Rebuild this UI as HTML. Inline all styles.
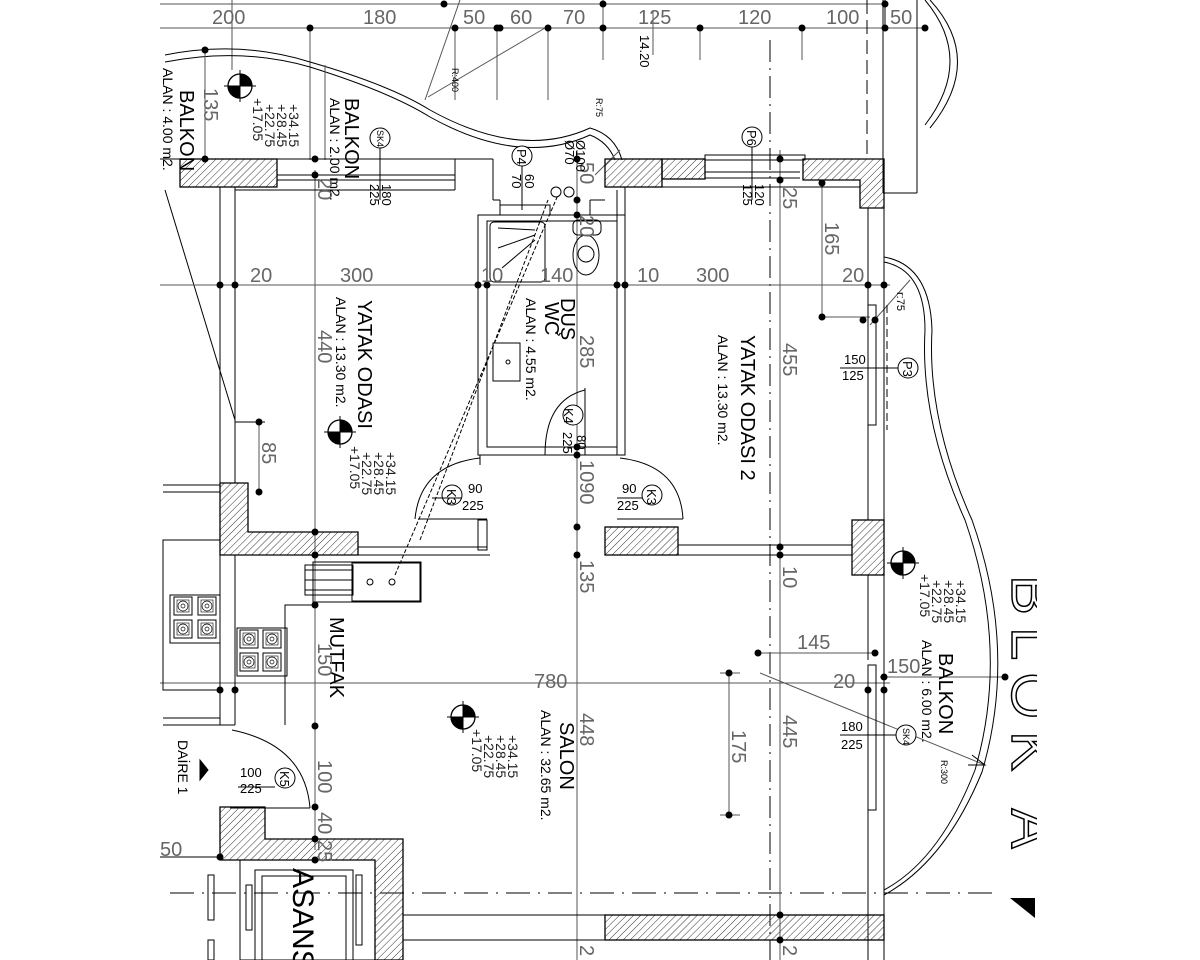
<!DOCTYPE html>
<html><head><meta charset="utf-8">
<style>
html,body{margin:0;padding:0;background:#fff;}
svg{display:block;}
.d{font-family:"Liberation Sans",sans-serif;font-size:20px;fill:#666;font-weight:normal;}
.l{font-family:"Liberation Sans",sans-serif;font-size:14px;fill:#000;}
.lb{font-family:"Liberation Sans",sans-serif;font-size:20px;fill:#000;}
.s{font-family:"Liberation Sans",sans-serif;font-size:13px;fill:#000;}
.t{font-family:"Liberation Sans",sans-serif;font-size:9px;fill:#000;}
</style></head><body>
<svg width="1200" height="960" viewBox="0 0 1200 960" xmlns="http://www.w3.org/2000/svg">
<defs>
<pattern id="h" width="5" height="5" patternUnits="userSpaceOnUse" patternTransform="rotate(45)">
<line x1="0" y1="0" x2="0" y2="5" stroke="#333" stroke-width="1"/></pattern>
<g id="em"><circle cx="0" cy="0" r="12" fill="#fff" stroke="#000" stroke-width="1.3"/>
<path d="M0 0 L0 -12 A12 12 0 0 1 12 0 Z M0 0 L0 12 A12 12 0 0 1 -12 0 Z" fill="#000"/>
<line x1="-16" y1="0" x2="16" y2="0" stroke="#000"/><line x1="0" y1="-16" x2="0" y2="16" stroke="#000"/></g>
<g id="bur"><rect x="0" y="0" width="18" height="18" fill="#fff" stroke="#000"/><rect x="3" y="3" width="12" height="12" fill="none" stroke="#000" stroke-width=".6"/><circle cx="9" cy="9" r="5" fill="none" stroke="#000" stroke-width=".7"/><circle cx="9" cy="9" r="2" fill="none" stroke="#000" stroke-width=".7"/></g>
<clipPath id="cr"><rect x="990" y="0" width="47" height="960"/></clipPath>
</defs>
<rect width="1200" height="960" fill="#fff"/>
<g stroke="#000" fill="none" stroke-width="1">
<line x1="160" y1="4" x2="885" y2="4" stroke="#555"/>
<line x1="160" y1="28" x2="925" y2="28" stroke="#555"/>
<g stroke="#555">
<line x1="232" y1="0" x2="232" y2="70"/><line x1="310" y1="28" x2="310" y2="160"/>
<line x1="455" y1="28" x2="455" y2="100"/><line x1="497" y1="28" x2="497" y2="100"/>
<line x1="548" y1="28" x2="548" y2="100"/><line x1="603" y1="0" x2="603" y2="60"/>
<line x1="700" y1="28" x2="700" y2="60"/><line x1="802" y1="28" x2="802" y2="60"/>
<line x1="653" y1="10" x2="653" y2="55"/>
</g>
<line x1="885" y1="0" x2="885" y2="28" />
<line x1="867" y1="0" x2="867" y2="160" stroke-dasharray="14,6"/>
<line x1="883" y1="0" x2="883" y2="193"/><line x1="917" y1="0" x2="917" y2="193"/>
<line x1="883" y1="193" x2="917" y2="193"/>
<path d="M925 0 Q975 60 925 125" /><path d="M930 0 Q985 60 930 128"/>
<path d="M165 55 Q240 40 310 62 Q390 85 430 110 Q520 160 590 128 Q615 135 622 160"/>
<path d="M165 62 Q240 47 310 67 Q390 92 430 117 Q520 167 590 135 Q608 142 615 160"/>
<line x1="205" y1="50" x2="205" y2="160" stroke="#555"/>
<line x1="325" y1="65" x2="325" y2="160" stroke="#555"/>
<line x1="428" y1="97" x2="545" y2="28" stroke="#555"/>
<line x1="425" y1="100" x2="460" y2="0" stroke="#555"/>
<line x1="165" y1="190" x2="235" y2="420"/>
<line x1="235" y1="422" x2="265" y2="422"/>
<line x1="770" y1="40" x2="770" y2="960" stroke-dasharray="22,6,2,6"/>
<line x1="170" y1="893" x2="1000" y2="893" stroke-dasharray="24,8,2,8"/>
<line x1="160" y1="285" x2="890" y2="285" stroke="#555"/>
<line x1="160" y1="683" x2="890" y2="683" stroke="#555"/>
<line x1="315" y1="170" x2="315" y2="850" stroke="#555"/>
<line x1="577" y1="150" x2="577" y2="960" stroke="#555"/>
<line x1="780" y1="150" x2="780" y2="960" stroke="#555"/>
<line x1="259" y1="420" x2="259" y2="492" stroke="#555"/>
<line x1="822" y1="183" x2="822" y2="317" stroke="#555"/>
<line x1="820" y1="317" x2="870" y2="317" stroke="#555"/>
<line x1="758" y1="653" x2="875" y2="653" stroke="#555"/>
<line x1="729" y1="673" x2="729" y2="815" stroke="#555"/>
<line x1="720" y1="673" x2="740" y2="673" stroke="#555"/>
<line x1="720" y1="815" x2="740" y2="815" stroke="#555"/>
<line x1="880" y1="677" x2="1005" y2="677" stroke="#555"/>
<line x1="760" y1="673" x2="985" y2="765" stroke="#555"/>
<path d="M972 755 L985 765 L968 765" />
<path d="M884 262 Q925 270 925 330 Q920 420 965 520 Q1010 650 975 770 Q940 860 884 890"/>
<path d="M884 257 Q930 265 932 330 Q927 420 972 520 Q1018 650 982 772 Q945 862 884 895"/>
<line x1="870" y1="325" x2="910" y2="280" stroke="#555"/>
<line x1="160" y1="159" x2="180" y2="159"/>
<line x1="277" y1="159" x2="455" y2="159"/>
<line x1="277" y1="175" x2="455" y2="175"/>
<line x1="277" y1="180" x2="455" y2="180"/>
<line x1="455" y1="159" x2="493" y2="159"/><line x1="493" y1="159" x2="493" y2="200"/><line x1="455" y1="159" x2="455" y2="190"/>
<line x1="235" y1="190" x2="455" y2="190"/>
<line x1="493" y1="200" x2="500" y2="200"/><line x1="500" y1="200" x2="500" y2="215"/>
<line x1="590" y1="200" x2="605" y2="200"/><line x1="590" y1="200" x2="590" y2="215"/>
<rect x="500" y="205" width="50" height="10"/>
<rect x="478" y="215" width="147" height="240"/>
<rect x="487" y="221" width="130" height="226"/>
<rect x="490" y="222" width="55" height="60" rx="4"/>
<line x1="498" y1="228" x2="535" y2="230"/><line x1="498" y1="248" x2="535" y2="235"/><line x1="502" y1="268" x2="535" y2="240"/>
<rect x="493" y="343" width="27" height="38"/><circle cx="508" cy="362" r="2"/>
<ellipse cx="586" cy="255" rx="13" ry="20"/><circle cx="586" cy="254" r="8"/>
<rect x="573" y="220" width="28" height="15" rx="5"/>
<line x1="420" y1="540" x2="548" y2="200" stroke-dasharray="4,2"/>
<line x1="395" y1="575" x2="558" y2="195" stroke-dasharray="4,2"/>
<circle cx="556" cy="192" r="5"/><circle cx="569" cy="192" r="5"/>
<line x1="595" y1="175" x2="620" y2="150" stroke="#555"/>
<path d="M545 455 Q545 400 585 390" /><line x1="585" y1="388" x2="585" y2="455"/>
<line x1="220" y1="187" x2="220" y2="483"/><line x1="235" y1="187" x2="235" y2="483"/>
<path d="M415 519 Q420 465 480 458"/><line x1="480" y1="455" x2="480" y2="465"/>
<line x1="418" y1="519" x2="487" y2="519"/><rect x="478" y="520" width="9" height="30"/>
<path d="M683 519 Q680 465 620 458"/><line x1="617" y1="519" x2="683" y2="519"/>
<line x1="358" y1="547" x2="487" y2="547"/><line x1="358" y1="555" x2="490" y2="555"/>
<line x1="678" y1="545" x2="852" y2="545"/><line x1="678" y1="555" x2="852" y2="555"/>
<line x1="868" y1="208" x2="868" y2="305"/><line x1="884" y1="180" x2="884" y2="960"/>
<line x1="868" y1="425" x2="868" y2="520"/><line x1="868" y1="575" x2="868" y2="660"/>
<line x1="868" y1="810" x2="868" y2="960"/>
<rect x="868" y="305" width="8" height="120"/><line x1="887" y1="305" x2="887" y2="430" stroke-dasharray="8,4"/>
<rect x="868" y="665" width="8" height="145"/>
<line x1="625" y1="187" x2="625" y2="455"/><line x1="617" y1="190" x2="617" y2="455"/>
<line x1="600" y1="455" x2="625" y2="455"/>
<rect x="705" y="155" width="100" height="5"/><line x1="705" y1="172" x2="800" y2="172"/><line x1="705" y1="178" x2="800" y2="178"/>
<line x1="640" y1="187" x2="860" y2="187"/>
<line x1="163" y1="485" x2="220" y2="485"/><line x1="163" y1="492" x2="220" y2="492"/>
<rect x="163" y="540" width="57" height="150"/>
<line x1="220" y1="555" x2="220" y2="725"/><line x1="235" y1="555" x2="235" y2="725"/>
<line x1="163" y1="725" x2="235" y2="725"/><line x1="163" y1="718" x2="220" y2="718"/>
<rect x="170" y="595" width="50" height="48"/>
<use href="#bur" x="174" y="597"/><use href="#bur" x="198" y="597"/><use href="#bur" x="174" y="620"/><use href="#bur" x="198" y="620"/>
<rect x="237" y="628" width="50" height="48"/>
<use href="#bur" x="240" y="630"/><use href="#bur" x="263" y="630"/><use href="#bur" x="240" y="653"/><use href="#bur" x="263" y="653"/>
<polyline points="285,725 285,605 315,605"/>
<rect x="313" y="562" width="108" height="40"/>
<rect x="352" y="563" width="68" height="38"/>
<rect x="305" y="565" width="48" height="30"/>
<line x1="305" y1="570" x2="352" y2="570"/><line x1="305" y1="580" x2="352" y2="580"/><line x1="305" y1="590" x2="352" y2="590"/>
<circle cx="370" cy="582" r="3"/><circle cx="392" cy="582" r="3"/>
<path d="M232 730 Q305 745 310 808"/><line x1="230" y1="808" x2="310" y2="808"/>
<path d="M200 760 L208 770 L200 780 Z" fill="#000"/>
<rect x="240" y="860" width="135" height="100"/><rect x="255" y="870" width="98" height="90"/><rect x="262" y="876" width="84" height="84"/>
<rect x="208" y="875" width="6" height="45"/><rect x="208" y="940" width="6" height="20"/>
<rect x="246" y="885" width="6" height="45"/><rect x="356" y="875" width="6" height="70"/>
<line x1="160" y1="857" x2="220" y2="857"/>
<line x1="403" y1="915" x2="605" y2="915"/><line x1="403" y1="940" x2="605" y2="940"/>
</g>
<g fill="url(#h)" stroke="#000" stroke-width="1.3">
<rect x="180" y="159" width="97" height="28"/>
<rect x="605" y="159" width="57" height="28"/>
<rect x="662" y="159" width="43" height="20"/>
<path d="M803 159 L884 159 L884 208 L860 208 L860 180 L803 180 Z"/>
<path d="M220 483 L248 483 L248 532 L358 532 L358 555 L220 555 Z"/>
<rect x="605" y="527" width="73" height="28"/>
<rect x="852" y="520" width="32" height="55"/>
<path d="M220 807 L265 807 L265 839 L403 839 L403 960 L375 960 L375 860 L220 860 Z"/>
<rect x="605" y="915" width="279" height="25"/>
</g>
<g fill="#000">
<circle cx="310" cy="28" r="3.5"/><circle cx="455" cy="28" r="3.5"/><circle cx="497" cy="28" r="3.5"/><circle cx="500" cy="28" r="3.5"/><circle cx="548" cy="28" r="3.5"/><circle cx="603" cy="28" r="3.5"/><circle cx="700" cy="28" r="3.5"/><circle cx="802" cy="28" r="3.5"/><circle cx="885" cy="28" r="3.5"/><circle cx="925" cy="28" r="3.5"/>
<circle cx="603" cy="4" r="3.5"/><circle cx="885" cy="4" r="3.5"/><circle cx="444" cy="4" r="3.5"/>
<circle cx="205" cy="50" r="3.5"/><circle cx="205" cy="159" r="3.5"/><circle cx="315" cy="159" r="3.5"/><circle cx="315" cy="175" r="3.5"/>
<circle cx="577" cy="159" r="3.5"/><circle cx="577" cy="200" r="3.5"/><circle cx="577" cy="215" r="3.5"/>
<circle cx="220" cy="285" r="3.5"/><circle cx="235" cy="285" r="3.5"/><circle cx="478" cy="285" r="3.5"/><circle cx="487" cy="285" r="3.5"/><circle cx="617" cy="285" r="3.5"/><circle cx="625" cy="285" r="3.5"/><circle cx="868" cy="285" r="3.5"/><circle cx="884" cy="285" r="3.5"/>
<circle cx="780" cy="159" r="3.5"/><circle cx="780" cy="180" r="3.5"/><circle cx="822" cy="183" r="3.5"/><circle cx="822" cy="317" r="3.5"/><circle cx="863" cy="320" r="3.5"/><circle cx="875" cy="320" r="3.5"/>
<circle cx="259" cy="422" r="3.5"/><circle cx="259" cy="492" r="3.5"/>
<circle cx="577" cy="447" r="3.5"/><circle cx="577" cy="455" r="3.5"/><circle cx="577" cy="527" r="3.5"/><circle cx="577" cy="555" r="3.5"/>
<circle cx="780" cy="547" r="3.5"/><circle cx="780" cy="555" r="3.5"/>
<circle cx="315" cy="532" r="3.5"/><circle cx="315" cy="555" r="3.5"/><circle cx="315" cy="605" r="3.5"/><circle cx="315" cy="726" r="3.5"/><circle cx="315" cy="807" r="3.5"/><circle cx="315" cy="839" r="3.5"/><circle cx="315" cy="860" r="3.5"/>
<circle cx="220" cy="690" r="3.5"/><circle cx="235" cy="690" r="3.5"/><circle cx="220" cy="857" r="3.5"/>
<circle cx="758" cy="653" r="3.5"/><circle cx="875" cy="653" r="3.5"/><circle cx="729" cy="673" r="3.5"/><circle cx="729" cy="815" r="3.5"/>
<circle cx="868" cy="690" r="3.5"/><circle cx="884" cy="690" r="3.5"/><circle cx="884" cy="677" r="3.5"/><circle cx="1005" cy="677" r="3.5"/>
<circle cx="780" cy="915" r="3.5"/><circle cx="780" cy="940" r="3.5"/>
<path d="M1010 898 L1035 898 L1035 918 Z"/>
</g>
<g fill="#fff" stroke="#000">
<circle cx="380" cy="138" r="10"/><circle cx="522" cy="156" r="10"/><circle cx="752" cy="137" r="10"/>
<circle cx="908" cy="368" r="10"/><circle cx="573" cy="415" r="10"/><circle cx="452" cy="495" r="10"/><circle cx="652" cy="495" r="10"/>
<circle cx="285" cy="778" r="10"/><circle cx="906" cy="735" r="10"/>
</g>
<g stroke="#000"><line x1="380" y1="148" x2="380" y2="200"/><line x1="522" y1="166" x2="522" y2="210"/><line x1="752" y1="147" x2="752" y2="200"/><line x1="898" y1="368" x2="845" y2="368"/><line x1="896" y1="735" x2="840" y2="735"/>
<line x1="238" y1="787" x2="275" y2="787"/><line x1="432" y1="498" x2="462" y2="498"/><line x1="617" y1="498" x2="642" y2="498"/><line x1="840" y1="368" x2="867" y2="368"/></g>
<use href="#em" x="240" y="86"/><use href="#em" x="340" y="432"/><use href="#em" x="903" y="563"/><use href="#em" x="463" y="717"/>
<g class="lb">
<text transform="translate(358,300) rotate(90)">YATAK ODASI</text>
<text transform="translate(741,335) rotate(90)">YATAK ODASI 2</text>
<text transform="translate(561,298) rotate(90)">DUŞ</text>
<text transform="translate(545,302) rotate(90)">WC</text>
<text transform="translate(330,617) rotate(90)">MUTFAK</text>
<text transform="translate(560,722) rotate(90)">SALON</text>
<text transform="translate(939,653) rotate(90)">BALKON</text>
<text transform="translate(180,90) rotate(90)">BALKON</text>
<text transform="translate(345,98) rotate(90)">BALKON</text>
<text transform="translate(293,868) rotate(90)" style="font-size:30px">ASANSÖ</text>
</g>
<g class="l">
<text transform="translate(336,297) rotate(90)">ALAN : 13.30  m2.</text>
<text transform="translate(718,335) rotate(90)">ALAN : 13.30  m2.</text>
<text transform="translate(526,298) rotate(90)">ALAN : 4.55  m2.</text>
<text transform="translate(541,710) rotate(90)">ALAN : 32.65  m2.</text>
<text transform="translate(922,640) rotate(90)">ALAN : 6.00  m2.</text>
<text transform="translate(163,68) rotate(90)">ALAN : 4.00  m2.</text>
<text transform="translate(330,98) rotate(90)">ALAN : 2.00  m2.</text>
<text transform="translate(178,740) rotate(90)">DAİRE 1</text>
</g>
<g class="l" style="fill:#222">
<text transform="translate(289,104) rotate(90)">+34.15</text><text transform="translate(277,104) rotate(90)">+28.45</text><text transform="translate(265,104) rotate(90)">+22.75</text><text transform="translate(253,98) rotate(90)">+17.05</text>
<text transform="translate(386,452) rotate(90)">+34.15</text><text transform="translate(374,452) rotate(90)">+28.45</text><text transform="translate(362,452) rotate(90)">+22.75</text><text transform="translate(350,446) rotate(90)">+17.05</text>
<text transform="translate(956,580) rotate(90)">+34.15</text><text transform="translate(944,580) rotate(90)">+28.45</text><text transform="translate(932,580) rotate(90)">+22.75</text><text transform="translate(920,574) rotate(90)">+17.05</text>
<text transform="translate(508,735) rotate(90)">+34.15</text><text transform="translate(496,735) rotate(90)">+28.45</text><text transform="translate(484,735) rotate(90)">+22.75</text><text transform="translate(472,729) rotate(90)">+17.05</text>
</g>
<g class="d">
<text x="212" y="24">200</text><text x="363" y="24">180</text><text x="463" y="24">50</text><text x="510" y="24">60</text><text x="563" y="24">70</text><text x="638" y="24">125</text><text x="738" y="24">120</text><text x="826" y="24">100</text><text x="890" y="24">50</text>
<text x="250" y="282">20</text><text x="340" y="282">300</text><text x="481" y="282">10</text><text x="540" y="282">140</text><text x="637" y="282">10</text><text x="696" y="282">300</text><text x="842" y="282">20</text>
<text x="534" y="688">780</text><text x="797" y="649">145</text><text x="833" y="688">20</text><text x="887" y="673">150</text>
</g>
<g class="d">
<text transform="translate(204,88) rotate(90)">135</text>
<text transform="translate(318,178) rotate(90)">20</text>
<text transform="translate(318,330) rotate(90)">440</text>
<text transform="translate(262,442) rotate(90)">85</text>
<text transform="translate(580,162) rotate(90)">50</text>
<text transform="translate(580,215) rotate(90)">20</text>
<text transform="translate(580,335) rotate(90)">285</text>
<text transform="translate(580,460) rotate(90)">1090</text>
<text transform="translate(580,560) rotate(90)">135</text>
<text transform="translate(580,713) rotate(90)">448</text>
<text transform="translate(318,643) rotate(90)">150</text>
<text transform="translate(318,760) rotate(90)">100</text>
<text transform="translate(318,812) rotate(90)">40</text>
<text transform="translate(318,840) rotate(90)">25</text>
<text transform="translate(783,187) rotate(90)">25</text>
<text transform="translate(825,222) rotate(90)">165</text>
<text transform="translate(783,343) rotate(90)">455</text>
<text transform="translate(783,566) rotate(90)">10</text>
<text transform="translate(783,715) rotate(90)">445</text>
<text transform="translate(732,730) rotate(90)">175</text>
<text transform="translate(783,945) rotate(90)">2</text>
<text transform="translate(580,945) rotate(90)">2</text>
<text x="160" y="856">50</text>
</g>
<g class="s">
<text transform="translate(382,184) rotate(90)">180</text><text transform="translate(370,184) rotate(90)">225</text>
<text transform="translate(525,174) rotate(90)">60</text><text transform="translate(512,174) rotate(90)">70</text>
<text transform="translate(755,184) rotate(90)">120</text><text transform="translate(743,184) rotate(90)">125</text>
<text x="844" y="364">150</text><text x="842" y="380">125</text>
<text x="841" y="731">180</text><text x="841" y="749">225</text>
<text x="468" y="493">90</text><text x="462" y="510">225</text>
<text x="622" y="493">90</text><text x="617" y="510">225</text>
<text x="240" y="777">100</text><text x="240" y="793">225</text>
<text transform="translate(564,408) rotate(90)">K4</text><text transform="translate(563,432) rotate(90)">225</text><text transform="translate(577,435) rotate(90)">80</text>
<text transform="translate(447,489) rotate(90)">K3</text><text transform="translate(647,489) rotate(90)">K3</text>
<text transform="translate(280,771) rotate(90)">K5</text>
<text transform="translate(517,149) rotate(90)">P4</text><text transform="translate(747,130) rotate(90)">P6</text><text transform="translate(903,361) rotate(90)">P3</text>
<text transform="translate(576,140) rotate(90)">Ø100</text><text transform="translate(565,140) rotate(90)">Ø70</text>
<text transform="translate(640,35) rotate(90)">14.20</text>
</g>
<g class="t">
<text transform="translate(377,130) rotate(90)">SK4</text><text transform="translate(903,728) rotate(90)">SK4</text>
<text transform="translate(452,68) rotate(90)">R:400</text><text transform="translate(596,98) rotate(90)">R:75</text>
<text transform="translate(941,760) rotate(90)">R:300</text>
<text transform="translate(897,292) rotate(90)" style="font-size:11px">r:75</text>
</g>
<g clip-path="url(#cr)">
<text transform="translate(1012,575) rotate(90)" style="font-family:'Liberation Sans',sans-serif;font-size:60px;fill:none;stroke:#000;stroke-width:1.5;letter-spacing:12px">BLOK A</text>
</g>
</svg>
</body></html>
